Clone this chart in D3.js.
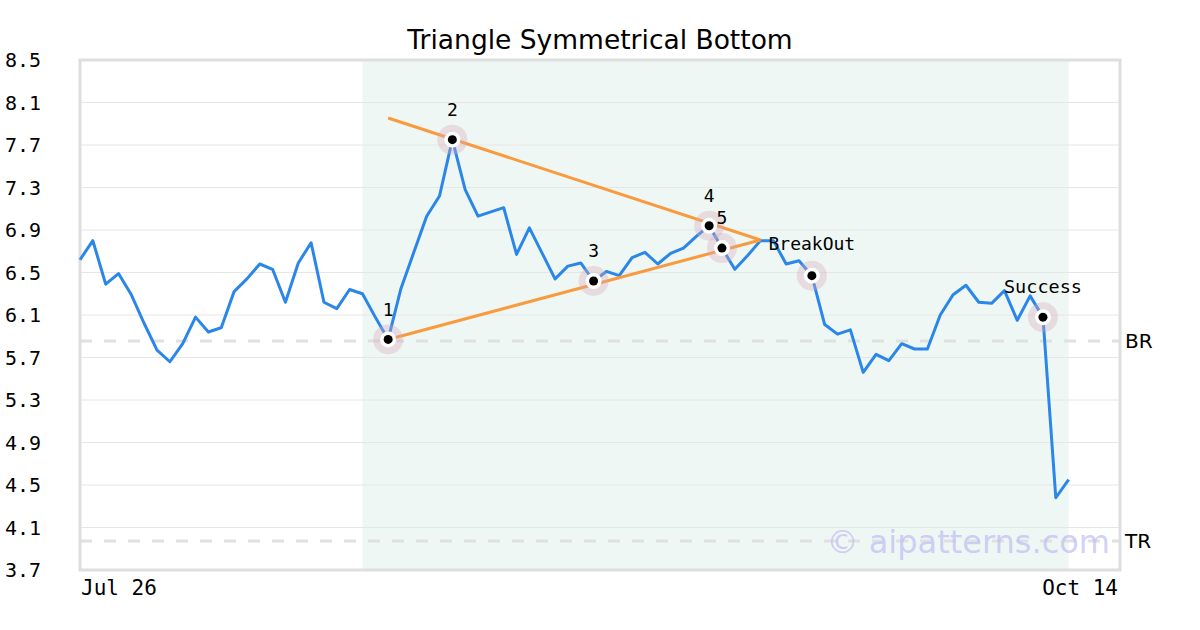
<!DOCTYPE html>
<html><head><meta charset="utf-8">
<script src="https://cdn.jsdelivr.net/npm/d3@7"></script>
<style>body{margin:0;background:#fff}svg{display:block}</style>
</head><body>
<svg id="c" width="1200" height="630"></svg>
<script>
const title = "Triangle Symmetrical Bottom";
const prices = [6.62,6.80,6.39,6.49,6.29,6.02,5.77,5.66,5.83,6.08,5.94,5.98,6.32,6.44,6.58,6.53,6.22,6.59,6.78,6.22,
6.16,6.34,6.30,6.08,5.87,6.35,6.69,7.03,7.22,7.75,7.28,7.03,7.07,7.11,6.67,6.92,6.68,6.44,6.56,6.59,
6.42,6.51,6.47,6.64,6.69,6.58,6.68,6.73,6.84,6.94,6.73,6.53,6.66,6.80,6.80,6.58,6.61,6.47,6.01,5.92,
5.96,5.56,5.73,5.67,5.83,5.78,5.78,6.10,6.29,6.38,6.22,6.21,6.33,6.05,6.28,6.08,4.38,4.55];
const yTicks = [3.7,4.1,4.5,4.9,5.3,5.7,6.1,6.5,6.9,7.3,7.7,8.1,8.5];
const xTickIdx = [0, 81];
const xTickLabels = ["Jul 26", "Oct 14"];
const pivotIdx = [24, 29, 40, 49, 50];
const pivotLabels = ["1","2","3","4","5"];
const upperLine = [[24, 7.954],[53, 6.806]];
const lowerLine = [[24, 5.87],[53, 6.806]];
const breakoutIdx = 57, successIdx = 75;
const levels = [{name:"BR", v:5.855},{name:"TR", v:3.973}];
const shade = [22, 77];

const L=80,R=1120,T=60,B=570;
const svg = d3.select("#c");
const x = d3.scaleLinear().domain([0,81]).range([L,R]);
const y = d3.scaleLinear().domain([3.7,8.5]).range([B,T]);
const mono = "'DejaVu Sans Mono', monospace", sans = "'DejaVu Sans', sans-serif";

svg.append("rect").attr("x",x(shade[0])).attr("y",T).attr("width",x(shade[1])-x(shade[0])).attr("height",B-T).attr("fill","#eff7f4");

svg.append("g").selectAll("line").data(yTicks.slice(1,-1)).join("line")
  .attr("x1",L).attr("x2",R).attr("y1",d=>y(d)).attr("y2",d=>y(d)).attr("stroke","#e6e6e6").attr("stroke-width",1);

svg.append("g").selectAll("line").data(levels).join("line")
  .attr("x1",L).attr("x2",R).attr("y1",d=>y(d.v)).attr("y2",d=>y(d.v))
  .attr("stroke","#e0e0e0").attr("stroke-width",3).attr("stroke-dasharray","12,12");
svg.append("g").selectAll("text").data(levels).join("text")
  .attr("x",R+5).attr("y",d=>y(d.v)).attr("dy","0.35em").attr("font-family",sans).attr("font-size",20).text(d=>d.name);

svg.append("rect").attr("x",L).attr("y",T).attr("width",R-L).attr("height",B-T).attr("fill","none").attr("stroke","#dedede").attr("stroke-width",3);

svg.append("g").selectAll("text").data(yTicks).join("text")
  .attr("x",5).attr("y",d=>y(d)).attr("dy","0.35em").attr("font-family",mono).attr("font-size",20).text(d=>d.toFixed(1));

svg.append("g").selectAll("text").data(xTickIdx).join("text")
  .attr("x",(d,i)=>i===0?x(d)+1:x(d)-2).attr("y",595).attr("text-anchor",(d,i)=>i===0?"start":"end")
  .attr("font-family",mono).attr("font-size",21).text((d,i)=>xTickLabels[i]);

svg.append("text").attr("x",600).attr("y",49).attr("text-anchor","middle").attr("font-family",sans).attr("font-size",26.5).text(title);

svg.append("text").attr("x",1110).attr("y",553).attr("text-anchor","end").attr("font-family",sans).attr("font-size",32)
  .attr("fill","#b8b8f5").attr("fill-opacity",0.65).text("© aipatterns.com");

const line = d3.line().x((d,i)=>x(i)).y(d=>y(d));
svg.append("path").datum(prices).attr("d",line).attr("fill","none").attr("stroke","#2a86e8").attr("stroke-width",3).attr("stroke-linejoin","round");

const tl = d3.line().x(d=>x(d[0])).y(d=>y(d[1]));
[upperLine, lowerLine].forEach(l=>svg.append("path").datum(l).attr("d",tl).attr("fill","none").attr("stroke","#f89a3e").attr("stroke-width",3));

const marks = pivotIdx.concat([breakoutIdx, successIdx]);
const mg = svg.append("g").selectAll("g").data(marks).join("g").attr("transform",d=>`translate(${x(d)},${y(prices[d])})`);
mg.append("circle").attr("r",15).attr("fill","#d8a8b8").attr("fill-opacity",0.35);
mg.append("circle").attr("r",8).attr("fill","#fff");
mg.append("circle").attr("r",4.5).attr("fill","#000");

svg.append("g").selectAll("text").data(pivotIdx).join("text")
  .attr("x",d=>x(d)).attr("y",d=>y(prices[d])-30)
  .attr("dy","0.35em").attr("text-anchor","middle").attr("font-family",mono).attr("font-size",18).text((d,i)=>pivotLabels[i]);

svg.append("text").attr("x",x(upperLine[1][0])+8).attr("y",y(upperLine[1][1])+4).attr("dy","0.35em")
  .attr("font-family",mono).attr("font-size",18).text("BreakOut");
svg.append("text").attr("x",x(successIdx)).attr("y",y(prices[successIdx])-31).attr("dy","0.35em").attr("text-anchor","middle")
  .attr("font-family",mono).attr("font-size",18.5).text("Success");
</script>
</body></html>
